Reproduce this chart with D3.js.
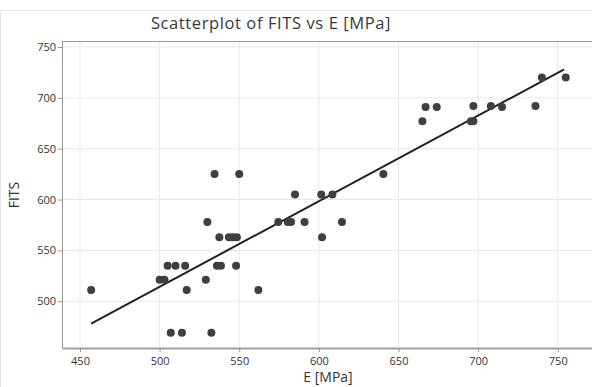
<!DOCTYPE html>
<html>
<head>
<meta charset="utf-8">
<script src="https://cdn.jsdelivr.net/npm/d3@7"></script>
<style>
  body { margin: 0; background: #fff; }
  svg { display: block; font-family: "Open Sans", "Noto Sans", sans-serif; }
</style>
</head>
<body>
<div id="chart"></div>
<script>
// E [MPa] values
var eVals = [457, 500, 503, 505, 510, 516, 517, 507, 514, 532.5,
  530, 529, 534.5, 550, 537.5, 543.5, 546, 548.5, 536, 538.5, 548, 562,
  574.5, 580.5, 582.5, 585, 591, 601.5, 602, 608.5, 614.5, 640.5,
  665, 667, 674, 695.5, 697, 697, 708, 715, 736, 740, 755];
// FITS values
var fitVals = [511, 521, 521, 535, 535, 535, 511, 469, 469, 469,
  578, 521, 625, 625, 563, 563, 563, 563, 535, 535, 535, 511,
  578, 578, 578, 605, 578, 605, 563, 605, 578, 625,
  677, 691, 691, 677, 677, 692, 692, 691, 692, 720, 720];
// fitted line ends
var lineE = [457, 754];
var lineFit = [478, 728];

var xTicks = [450, 500, 550, 600, 650, 700, 750];
var yTicks = [500, 550, 600, 650, 700, 750];

var width = 592, height = 387;
var margin = { top: 41, right: 0, bottom: 39, left: 62 };

var svg = d3.select("#chart").append("svg")
  .attr("width", width)
  .attr("height", height);

// faint outer frame
svg.append("rect")
  .attr("x", 0.5).attr("y", 10.5)
  .attr("width", width + 10).attr("height", height)
  .attr("fill", "none")
  .attr("stroke", "#e4e4e4");

x = d3.scaleLinear()
  .domain([438.7, 771.5])
  .range([margin.left, width - margin.right]);

y = d3.scaleLinear()
  .domain([454, 755.9])
  .range([height - margin.bottom, margin.top]);

// gridlines
svg.append("g")
  .selectAll("line")
  .data(xTicks)
  .join("line")
  .attr("x1", (d) => x(d)).attr("x2", (d) => x(d))
  .attr("y1", margin.top).attr("y2", height - margin.bottom)
  .attr("stroke", "#e8e8e8");

svg.append("g")
  .selectAll("line")
  .data(yTicks)
  .join("line")
  .attr("x1", margin.left).attr("x2", width)
  .attr("y1", (d) => y(d)).attr("y2", (d) => y(d))
  .attr("stroke", "#e8e8e8");

// top border of plot
svg.append("line")
  .attr("x1", margin.left).attr("x2", width)
  .attr("y1", margin.top + 0.5).attr("y2", margin.top + 0.5)
  .attr("stroke", "#999");

xAxis = (g) =>
  g.attr("transform", `translate(0,${height - margin.bottom})`)
    .call(d3.axisBottom(x).tickValues(xTicks).tickSize(4).tickSizeOuter(0))
    .call((g) => g.select(".domain").attr("stroke", "#a0a0a0").attr("stroke-width", 2))
    .call((g) => g.selectAll(".tick line").attr("stroke", "#999"))
    .call((g) => g.selectAll(".tick text").attr("fill", "#333").attr("dy", "0.95em"));

yAxis = (g) =>
  g.attr("transform", `translate(${margin.left},0)`)
    .call(d3.axisLeft(y).tickValues(yTicks).tickSize(4).tickSizeOuter(0))
    .call((g) => g.select(".domain").attr("stroke", "#999"))
    .call((g) => g.selectAll(".tick line").attr("stroke", "#999"))
    .call((g) => g.selectAll(".tick text").attr("fill", "#333").attr("x", -6));

svg.append("g").call(xAxis).attr("font-size", 11).attr("font-family", null);
svg.append("g").call(yAxis).attr("font-size", 11).attr("font-family", null);

// fitted line
svg.append("line")
  .attr("x1", x(lineE[0])).attr("y1", y(lineFit[0]))
  .attr("x2", x(lineE[1])).attr("y2", y(lineFit[1]))
  .attr("stroke", "#222")
  .attr("stroke-width", 2);

// dots
svg.append("g")
  .attr("fill", "#3f3f3f")
  .selectAll("circle")
  .data(eVals)
  .join("circle")
  .attr("cx", (d) => x(d))
  .attr("cy", (d, i) => y(fitVals[i]))
  .attr("r", 4);

// title
svg.append("text")
  .attr("x", 271)
  .attr("y", 29)
  .style("text-anchor", "middle")
  .attr("font-size", 16.5)
  .attr("letter-spacing", 0.6)
  .attr("fill", "#383838")
  .text("Scatterplot of FITS vs E [MPa]");

svg.append("text") // text label for the x axis
  .attr("x", 328)
  .attr("y", 382)
  .style("text-anchor", "middle")
  .attr("font-size", 14)
  .attr("fill", "#333")
  .text("E [MPa]");

svg.append("text") // text label for the y axis
  .attr("transform", "translate(19,195) rotate(-90)")
  .style("text-anchor", "middle")
  .attr("font-size", 14)
  .attr("fill", "#333")
  .text("FITS");
</script>
</body>
</html>
